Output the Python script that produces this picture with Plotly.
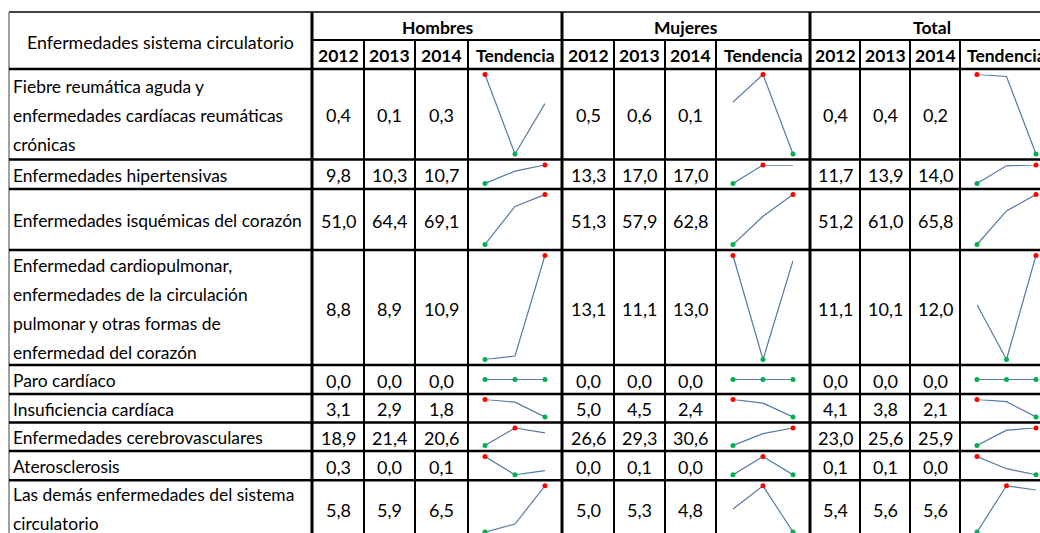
import plotly.graph_objects as go

# ---------------- data ----------------
groups = ["Hombres", "Mujeres", "Total"]
years = ["2012", "2013", "2014"]
header_label = "Enfermedades sistema circulatorio"
trend_label = "Tendencia"

causes = [
    ["Fiebre reumática aguda y", "enfermedades cardíacas reumáticas", "crónicas"],
    ["Enfermedades hipertensivas"],
    ["Enfermedades isquémicas del corazón"],
    ["Enfermedad cardiopulmonar,", "enfermedades de la circulación",
     "pulmonar y otras formas de", "enfermedad del corazón"],
    ["Paro cardíaco"],
    ["Insuficiencia cardíaca"],
    ["Enfermedades cerebrovasculares"],
    ["Aterosclerosis"],
    ["Las demás enfermedades del sistema", "circulatorio"],
]

# table values (2012, 2013, 2014)
hombres = [[0.4, 0.1, 0.3], [9.8, 10.3, 10.7], [51.0, 64.4, 69.1], [8.8, 8.9, 10.9],
           [0.0, 0.0, 0.0], [3.1, 2.9, 1.8], [18.9, 21.4, 20.6], [0.3, 0.0, 0.1], [5.8, 5.9, 6.5]]
mujeres = [[0.5, 0.6, 0.1], [13.3, 17.0, 17.0], [51.3, 57.9, 62.8], [13.1, 11.1, 13.0],
           [0.0, 0.0, 0.0], [5.0, 4.5, 2.4], [26.6, 29.3, 30.6], [0.0, 0.1, 0.0], [5.0, 5.3, 4.8]]
total = [[0.4, 0.4, 0.2], [11.7, 13.9, 14.0], [51.2, 61.0, 65.8], [11.1, 10.1, 12.0],
         [0.0, 0.0, 0.0], [4.1, 3.8, 2.1], [23.0, 25.6, 25.9], [0.1, 0.1, 0.0], [5.4, 5.6, 5.6]]

# unrounded values as read from the sparklines
hombres_trend = [[0.40, 0.10, 0.29], [9.8, 10.4, 10.7], [51.0, 64.8, 69.1], [8.8, 8.87, 10.9],
                 [0.0, 0.0, 0.0], [3.1, 2.9, 1.8], [18.9, 21.4, 20.7], [0.30, 0.00, 0.07], [5.8, 5.92, 6.5]]
mujeres_trend = [[0.45, 0.61, 0.15], [13.3, 17.02, 17.0], [51.3, 57.8, 62.8], [13.1, 11.1, 13.0],
                 [0.0, 0.0, 0.0], [5.0, 4.45, 2.4], [26.6, 29.3, 30.6], [0.0, 0.1, 0.0], [5.05, 5.3, 4.8]]
total_trend = [[0.40, 0.395, 0.20], [11.7, 13.9, 14.0], [51.2, 61.0, 65.8], [11.1, 10.1, 12.0],
               [0.0, 0.0, 0.0], [4.1, 3.85, 2.1], [23.0, 25.55, 25.9], [0.12, 0.07, 0.045], [5.40, 5.62, 5.60]]

table_values = [hombres, mujeres, total]
trend_values = [hombres_trend, mujeres_trend, total_trend]

# ---------------- layout geometry (pixels) ----------------
W, H = 1040, 533
col_edges = [9, 312, 364, 415, 468, 562, 614, 665, 716, 810, 860, 910, 960, 1053]
row_edges = [12, 40, 69, 159.5, 189, 250, 365, 394, 422.5, 451, 480.3, 537.5]
line_gap = 29
FONT = "Lato"
FS_LABEL = 17.4
FS_VALUE = 18
FS_HEAD = 17.5
SPARK_PAD_X = 17
SPARK_PAD_Y = 5.5
line_col = "#557AA3"
hi_col = "#FF0000"
lo_col = "#00B050"

fig = go.Figure()
annotations = []
shapes = []


def fmt(v):
    return f"{v:.1f}".replace(".", ",")


def text(x, y, s, size, bold=False, anchor="center"):
    annotations.append(dict(
        x=x, y=y, xref="x", yref="y", text=f"<b>{s}</b>" if bold else s,
        showarrow=False, xanchor=anchor, yanchor="middle",
        font=dict(family=FONT, size=size, color="black")))


def hline(y, x0, x1, w=2, color="black"):
    shapes.append(dict(type="line", xref="x", yref="y", x0=x0, x1=x1, y0=y, y1=y,
                       line=dict(color=color, width=w)))


def vline(x, y0, y1, w=2, color="black"):
    shapes.append(dict(type="line", xref="x", yref="y", x0=x, x1=x, y0=y0, y1=y1,
                       line=dict(color=color, width=w)))


top, bottom = row_edges[0], row_edges[-1]
left, right = col_edges[0], col_edges[-1]

# header texts
text((col_edges[0] + col_edges[1]) / 2, (row_edges[0] + row_edges[2]) / 2 + 1, header_label, FS_LABEL + 0.4)
for g, name in enumerate(groups):
    c0 = col_edges[1 + 4 * g]
    c1 = col_edges[5 + 4 * g]
    text((c0 + c1) / 2, (row_edges[0] + row_edges[1]) / 2 + 1, name, FS_HEAD, bold=True)
    for k, lab in enumerate(years + [trend_label]):
        a, b = col_edges[1 + 4 * g + k], col_edges[2 + 4 * g + k]
        text((a + b) / 2, (row_edges[1] + row_edges[2]) / 2 + 1, lab, FS_HEAD, bold=True)

# body texts
for r, lines in enumerate(causes):
    rt, rb = row_edges[2 + r], row_edges[3 + r]
    cy = (rt + rb) / 2 + 1
    n = len(lines)
    for i, ln in enumerate(lines):
        text(left + 2, cy + (i - (n - 1) / 2) * line_gap - (1 if r == len(causes) - 1 else 0),
             ln, FS_LABEL, anchor="left")
    for g in range(3):
        for k in range(3):
            a, b = col_edges[1 + 4 * g + k], col_edges[2 + 4 * g + k]
            text((a + b) / 2, cy, fmt(table_values[g][r][k]), FS_VALUE)

# grid lines
hline(top, left, right, 2, "#404040")
vline(left, top, bottom, 1.5, "#808080")
hline(row_edges[1], col_edges[1], right, 2)
for y in row_edges[2:-1]:
    hline(y, left, right, 2.5)
vline(col_edges[1], top, bottom, 3)
for g in range(3):
    vline(col_edges[5 + 4 * g], top, bottom, 3)
    for k in range(1, 4):
        vline(col_edges[1 + 4 * g + k], row_edges[1], bottom, 2)

layout_axes = {}
layout_axes["xaxis"] = dict(range=[0, W], domain=[0, 1], visible=False, fixedrange=True)
layout_axes["yaxis"] = dict(range=[H, 0], domain=[0, 1], visible=False, fixedrange=True)

# sparklines, each on its own axes pair placed on its cell
n_ax = 1
for g in range(3):
    cl, cr = col_edges[4 + 4 * g], col_edges[5 + 4 * g]
    for r in range(len(causes)):
        n_ax += 1
        rt, rb = row_edges[2 + r], row_edges[3 + r]
        vals = trend_values[g][r]
        vmin, vmax = min(vals), max(vals)
        if vmax == vmin:
            yr = [vmin - 1, vmax + 1]
            cols = [lo_col] * 3
            show = [True] * 3
        else:
            yr = [vmin, vmax]
            cols, show = [], []
            for v in vals:
                if v == vmin:
                    cols.append(lo_col); show.append(True)
                elif v == vmax:
                    cols.append(hi_col); show.append(True)
                else:
                    cols.append(line_col); show.append(False)
        xs = [int(y) for y in years]
        xa, ya = f"x{n_ax}", f"y{n_ax}"
        fig.add_trace(go.Scatter(x=xs, y=vals, mode="lines", xaxis=xa, yaxis=ya,
                                 line=dict(color=line_col, width=1.2),
                                 cliponaxis=False, hoverinfo="skip", showlegend=False))
        mx = [x for x, s in zip(xs, show) if s]
        my = [v for v, s in zip(vals, show) if s]
        mc = [c for c, s in zip(cols, show) if s]
        fig.add_trace(go.Scatter(x=mx, y=my, mode="markers", xaxis=xa, yaxis=ya,
                                 marker=dict(color=mc, size=5),
                                 cliponaxis=False, hoverinfo="skip", showlegend=False))
        xd = [max(0, (cl + SPARK_PAD_X) / W), min(1, (cr - SPARK_PAD_X) / W)]
        yd = [max(0, (H - (rb - SPARK_PAD_Y)) / H), min(1, (H - (rt + SPARK_PAD_Y)) / H)]
        layout_axes[f"xaxis{n_ax}"] = dict(domain=xd, range=[2012, 2014], anchor=ya,
                                           visible=False, fixedrange=True)
        layout_axes[f"yaxis{n_ax}"] = dict(domain=yd, range=yr, anchor=xa,
                                           visible=False, fixedrange=True)

fig.update_layout(
    width=W, height=H,
    margin=dict(l=0, r=0, t=0, b=0),
    paper_bgcolor="white", plot_bgcolor="white",
    showlegend=False,
    annotations=annotations, shapes=shapes,
    **layout_axes,
)

fig.write_html("out.html", config={"displayModeBar": False},
               post_script="document.body.style.margin='0';document.body.style.overflow='hidden';")
